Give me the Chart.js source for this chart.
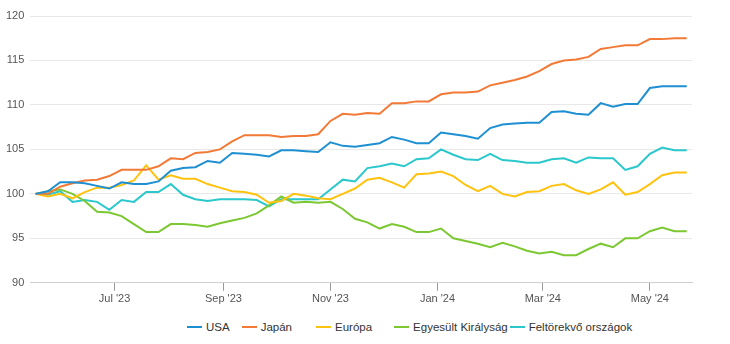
<!DOCTYPE html>
<html>
<head>
<meta charset="utf-8">
<script src="https://cdn.jsdelivr.net/npm/chart.js@4/dist/chart.umd.min.js"></script>
<style>
  html, body { margin: 0; padding: 0; background: #fff; }
  body { width: 730px; height: 344px; overflow: hidden; font-family: "Liberation Sans", Arial, sans-serif; }
  #wrap { position: relative; width: 730px; height: 308px; }
  #legend { display: flex; align-items: center; height: 38px; padding-left: 187px; font-size: 11.5px; color: #333; }
  #legend .item { display: flex; align-items: center; white-space: nowrap; }
  #legend .swatch { width: 15px; height: 2px; margin-right: 4px; }
</style>
</head>
<body>
<div id="wrap"><canvas id="chart"></canvas></div>
<div id="legend"></div>
<script>
// weekly dates (Wednesdays)
const dates = [
  '2023-05-17', '2023-05-24', '2023-05-31', '2023-06-07', '2023-06-14', '2023-06-21', '2023-06-28',
  '2023-07-05', '2023-07-12', '2023-07-19', '2023-07-26', '2023-08-02', '2023-08-09', '2023-08-16',
  '2023-08-23', '2023-08-30', '2023-09-06', '2023-09-13', '2023-09-20', '2023-09-27', '2023-10-04',
  '2023-10-11', '2023-10-18', '2023-10-25', '2023-11-01', '2023-11-08', '2023-11-15', '2023-11-22',
  '2023-11-29', '2023-12-06', '2023-12-13', '2023-12-20', '2023-12-27', '2024-01-03', '2024-01-10',
  '2024-01-17', '2024-01-24', '2024-01-31', '2024-02-07', '2024-02-14', '2024-02-21', '2024-02-28',
  '2024-03-06', '2024-03-13', '2024-03-20', '2024-03-27', '2024-04-03', '2024-04-10', '2024-04-17',
  '2024-04-24', '2024-05-01', '2024-05-08', '2024-05-15', '2024-05-22'
];

const usa = [
  100, 100.3, 101.3, 101.3, 101.2, 100.9, 100.6, 101.3, 101.1, 101.1, 101.4, 102.6, 102.9, 103.0,
  103.7, 103.5, 104.6, 104.5, 104.4, 104.2, 104.9, 104.9, 104.8, 104.7, 105.8, 105.4, 105.3, 105.5,
  105.7, 106.4, 106.1, 105.7, 105.7, 106.9, 106.7, 106.5, 106.2, 107.4, 107.8, 107.9, 108.0, 108.0,
  109.2, 109.3, 109.0, 108.9, 110.2, 109.8, 110.1, 110.1, 111.9, 112.1, 112.1, 112.1
];
const japan = [
  100, 100.0, 100.8, 101.2, 101.5, 101.6, 102.0, 102.7, 102.7, 102.7, 103.1, 104.0, 103.9, 104.6,
  104.7, 105.0, 105.9, 106.6, 106.6, 106.6, 106.4, 106.5, 106.5, 106.7, 108.2, 109.0, 108.9, 109.1,
  109.0, 110.2, 110.2, 110.4, 110.4, 111.2, 111.4, 111.4, 111.5, 112.2, 112.5, 112.8, 113.2, 113.8,
  114.6, 115.0, 115.1, 115.4, 116.3, 116.5, 116.7, 116.7, 117.4, 117.4, 117.5, 117.5
];
const europe = [
  100, 99.7, 100.0, 99.5, 100.2, 100.7, 100.7, 101.0, 101.5, 103.2, 101.6, 102.1, 101.7, 101.7,
  101.1, 100.7, 100.3, 100.2, 99.9, 99.0, 99.2, 100.0, 99.8, 99.5, 99.4, 100.0, 100.6, 101.6,
  101.8, 101.3, 100.7, 102.2, 102.3, 102.5, 102.0, 101.0, 100.3, 100.9, 100.0, 99.7, 100.2, 100.3,
  100.9, 101.1, 100.4, 100.0, 100.5, 101.3, 99.9, 100.2, 101.1, 102.1, 102.4, 102.4
];
const uk = [
  100, 100.3, 100.5, 100.0, 99.2, 98.0, 97.9, 97.5, 96.6, 95.7, 95.7, 96.6, 96.6, 96.5,
  96.3, 96.7, 97.0, 97.3, 97.8, 98.7, 99.7, 99.0, 99.1, 99.0, 99.1, 98.3, 97.2, 96.8,
  96.1, 96.6, 96.3, 95.7, 95.7, 96.1, 95.0, 94.7, 94.4, 94.0, 94.5, 94.1, 93.6, 93.3,
  93.5, 93.1, 93.1, 93.8, 94.4, 94.0, 95.0, 95.0, 95.8, 96.2, 95.8, 95.8
];
const emerging = [
  100, 99.9, 100.3, 99.1, 99.3, 99.1, 98.2, 99.3, 99.1, 100.2, 100.2, 101.1, 99.9, 99.4,
  99.2, 99.4, 99.4, 99.4, 99.3, 98.6, 99.4, 99.4, 99.4, 99.4, 100.5, 101.6, 101.4, 102.9,
  103.1, 103.4, 103.1, 103.9, 104.0, 105.0, 104.4, 103.9, 103.8, 104.5, 103.8, 103.7, 103.5, 103.5,
  103.9, 104.0, 103.5, 104.1, 104.0, 104.0, 102.7, 103.1, 104.5, 105.2, 104.9, 104.9
];

const tickDates = ['2023-07-01', '2023-09-01', '2023-11-01', '2024-01-01', '2024-03-01', '2024-05-01'];
const tickLabels = ["Jul '23", "Sep '23", "Nov '23", "Jan '24", "Mar '24", "May '24"];

const seriesNames = ['USA', 'Japán', 'Európa', 'Egyesült Királyság', 'Feltörekvő országok'];
const seriesColors = ['#1e90d2', '#f27a36', '#ffc20e', '#7cc832', '#2ac8cc'];
const seriesValues = [usa, japan, europe, uk, emerging];

const DAY = 86400000;
const t0 = Date.parse(dates[0]);
const toDay = d => Math.round((Date.parse(d) - t0) / DAY);

const datasets = seriesNames.map((name, i) => ({
  label: name,
  data: seriesValues[i].map((v, j) => ({ x: toDay(dates[j]), y: v })),
  borderColor: seriesColors[i],
  backgroundColor: seriesColors[i],
  borderWidth: 2,
  pointRadius: 0,
  tension: 0,
  fill: false
}));

Chart.defaults.font.family = '"Liberation Sans", Arial, sans-serif';
Chart.defaults.font.size = 11;
Chart.defaults.color = '#555';

const chart = new Chart(document.getElementById('chart'), {
  type: 'line',
  data: { datasets },
  options: {
    responsive: true,
    maintainAspectRatio: false,
    animation: false,
    layout: { padding: { left: 0, right: 38, top: 16, bottom: 0 } },
    plugins: { legend: { display: false }, tooltip: { enabled: false } },
    scales: {
      x: {
        type: 'linear',
        min: -3,
        max: toDay(dates[dates.length - 1]) + 3,
        afterBuildTicks: axis => { axis.ticks = tickDates.map(d => ({ value: toDay(d) })); },
        ticks: {
          autoSkip: false,
          maxRotation: 0,
          padding: 2,
          callback: (v, i) => tickLabels[i]
        },
        grid: { drawOnChartArea: false, drawTicks: true, tickLength: 8, color: '#9a9a9a' },
        border: { display: true, color: '#d0d0d0' }
      },
      y: {
        min: 90,
        max: 120,
        ticks: { stepSize: 5, padding: 6 },
        grid: { color: '#e8e8e8', drawTicks: false },
        border: { display: false }
      }
    }
  }
});

// HTML legend
const legend = document.getElementById('legend');
const gaps = [12, 24, 22, 2, 0];
chart.data.datasets.forEach((ds, i) => {
  const item = document.createElement('div');
  item.className = 'item';
  item.style.marginRight = gaps[i] + 'px';
  item.innerHTML = `<span class="swatch" style="background:${ds.borderColor}"></span><span>${ds.label}</span>`;
  legend.appendChild(item);
});
</script>
</body>
</html>
